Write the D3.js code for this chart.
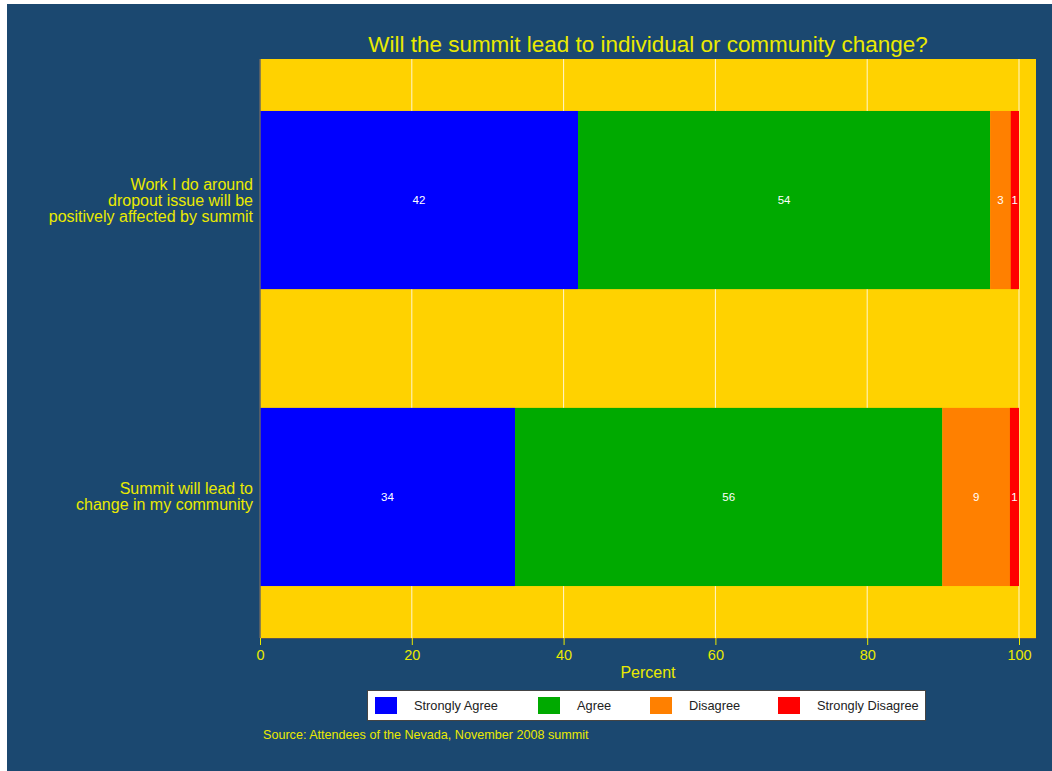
<!DOCTYPE html>
<html><head><meta charset="utf-8">
<script src="https://cdn.jsdelivr.net/npm/d3@7"></script>
<style>body{margin:0;background:#fff;}svg{display:block;}</style>
</head><body>
<svg id="c" width="1052" height="771"></svg>
<script>
const categories = [
  ["Work I do around", "dropout issue will be", "positively affected by summit"],
  ["Summit will lead to", "change in my community"]
];
const seriesNames = ["Strongly Agree", "Agree", "Disagree", "Strongly Disagree"];
const stronglyAgree = [41.9, 33.6];
const agree = [54.3, 56.3];
const disagree = [2.7, 8.9];
const stronglyDisagree = [1.1, 1.2];
const labels = [[42, 54, 3, 1], [34, 56, 9, 1]];
const xTicks = [0, 20, 40, 60, 80, 100];
const colors = ["#0000ff", "#00aa00", "#ff8000", "#ff0000"];

const svg = d3.select("#c");
const bg = "#1b4870", yel = "#ffd200", txt = "#eaea00";
svg.append("rect").attr("x", 7).attr("y", 4).attr("width", 1045).attr("height", 767).attr("fill", bg);

const L = 260, R = 1036, T = 59, B = 638;
const x = d3.scaleLinear().domain([0, 100]).range([L, 1019]);
const y = d3.scaleBand().domain([0, 1]).range([T, B]).paddingInner(0.4).paddingOuter(0.175);

svg.append("rect").attr("x", L).attr("y", T).attr("width", R - L).attr("height", B - T).attr("fill", yel);
svg.append("g").selectAll("line").data(xTicks.slice(1)).join("line")
  .attr("x1", d => x(d)).attr("x2", d => x(d)).attr("y1", T).attr("y2", B)
  .attr("stroke", "#fff6d0").attr("stroke-width", 1);

const data = [0, 1].map(i => [stronglyAgree[i], agree[i], disagree[i], stronglyDisagree[i]]);
data.forEach((vals, i) => {
  let acc = 0;
  vals.forEach((v, j) => {
    const x0 = acc; acc += v;
    svg.append("rect").attr("x", x(x0)).attr("y", y(i)).attr("width", x(acc) - x(x0))
      .attr("height", y.bandwidth()).attr("fill", colors[j]);
    svg.append("text").attr("x", (x(x0) + x(acc)) / 2).attr("y", y(i) + y.bandwidth() / 2 + 4)
      .attr("text-anchor", "middle").attr("fill", "#ffffff").attr("font-family", "Liberation Sans, Arial")
      .attr("font-size", 11.5).text(labels[i][j]);
  });
});

// axes lines
svg.append("line").attr("x1", L).attr("x2", L).attr("y1", T).attr("y2", B).attr("stroke", "#666").attr("stroke-width", 1.5);
svg.append("line").attr("x1", L).attr("x2", R).attr("y1", B + 0.5).attr("y2", B + 0.5).attr("stroke", "#555").attr("stroke-width", 1);

const ax = svg.append("g").attr("transform", `translate(0,${B})`)
  .call(d3.axisBottom(x).tickValues(xTicks).tickSize(7).tickPadding(5).tickFormat(d3.format("d")));
ax.select(".domain").remove();
ax.selectAll("line").attr("stroke", txt);
ax.selectAll("text").attr("fill", txt).attr("font-family", "Liberation Sans, Arial").attr("font-size", 14.5);

svg.append("text").attr("x", 648).attr("y", 678).attr("text-anchor", "middle").attr("fill", txt)
  .attr("font-family", "Liberation Sans, Arial").attr("font-size", 16).text("Percent");

// y labels
categories.forEach((lines, i) => {
  const cy = y(i) + y.bandwidth() / 2;
  const lh = 16;
  const t = svg.append("text").attr("text-anchor", "end").attr("fill", txt)
    .attr("font-family", "Liberation Sans, Arial").attr("font-size", 16);
  lines.forEach((ln, k) => {
    t.append("tspan").attr("x", 253).attr("y", cy + 5.5 + (k - (lines.length - 1) / 2) * lh).text(ln);
  });
});

const title = svg.append("text").attr("x", 648).attr("y", 52).attr("text-anchor", "middle").attr("fill", txt)
  .attr("font-family", "Liberation Sans, Arial").attr("font-size", 20)
  .text("Will the summit lead to individual or community change?");
const tw = title.node().getComputedTextLength();
title.attr("font-size", 20 * 560 / tw);

// legend
const lg = svg.append("g");
lg.append("rect").attr("x", 367.5).attr("y", 690.5).attr("width", 558).attr("height", 30)
  .attr("fill", "#fff").attr("stroke", "#444").attr("stroke-width", 1);
const lx = [375, 538, 650, 778];
seriesNames.forEach((n, j) => {
  lg.append("rect").attr("x", lx[j]).attr("y", 697).attr("width", 22).attr("height", 17).attr("fill", colors[j]);
  lg.append("text").attr("x", lx[j] + 39).attr("y", 710).attr("fill", "#222")
    .attr("font-family", "Liberation Sans, Arial").attr("font-size", 12.8).text(n);
});

svg.append("text").attr("x", 263).attr("y", 739).attr("fill", txt)
  .attr("font-family", "Liberation Sans, Arial").attr("font-size", 12.6)
  .text("Source: Attendees of the Nevada, November 2008 summit");
</script>
</body></html>
